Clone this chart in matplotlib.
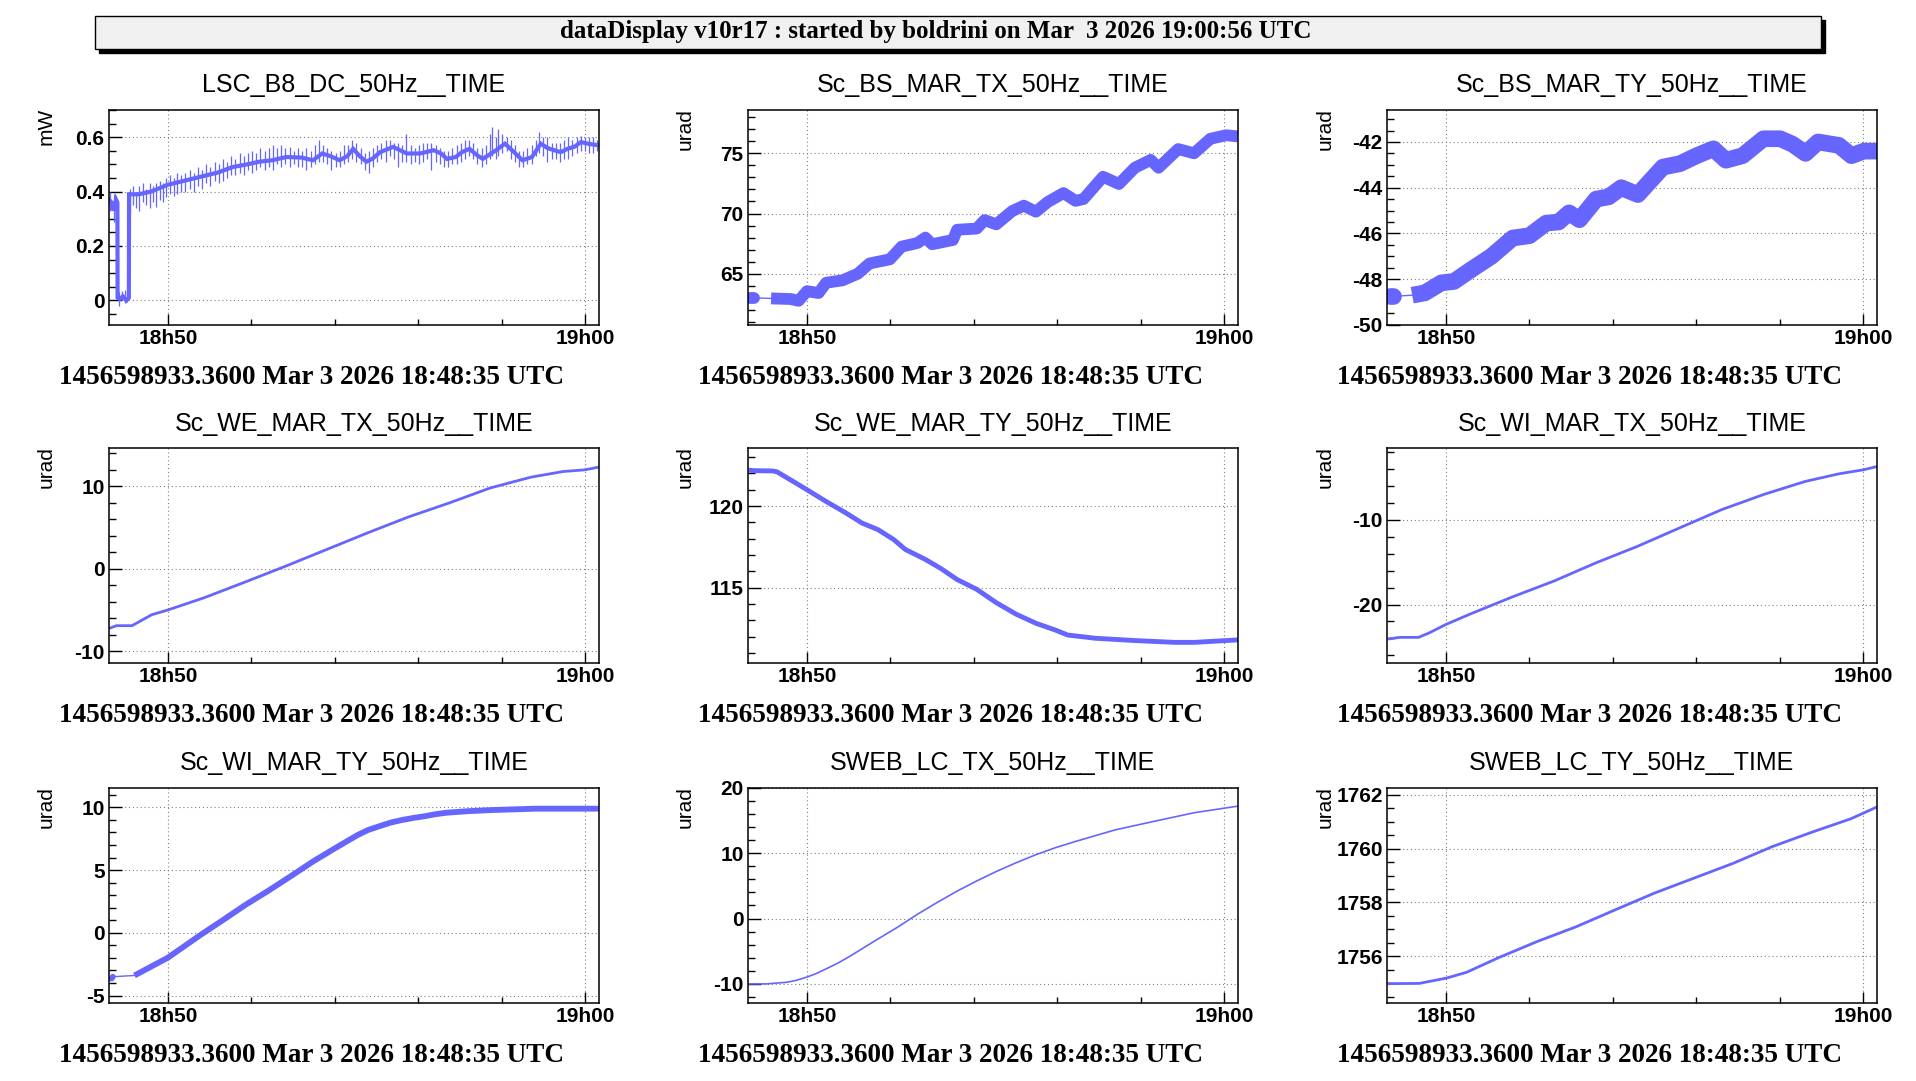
"""dataDisplay-style 3x3 grid of 50 Hz channels, 18h48 - 19h00 UTC."""

import matplotlib

matplotlib.use("Agg")
import matplotlib.pyplot as plt  # noqa: E402
from matplotlib.patches import Rectangle  # noqa: E402
from matplotlib.ticker import FixedLocator, MultipleLocator  # noqa: E402

BLUE = "#6666ff"
SANS = ["Liberation Sans", "DejaVu Sans"]
SERIF = ["Liberation Serif", "DejaVu Serif"]

HEADER = "dataDisplay v10r17 : started by boldrini on Mar  3 2026 19:00:56 UTC"
FOOTER = "1456598933.3600 Mar 3 2026 18:48:35 UTC"

# time axis: minutes after 18h00
T_START, T_END = 48.583, 60.33
X_MAJOR = [50, 60]
X_LABELS = ["18h50", "19h00"]
X_MINOR = [52, 54, 56, 58]

TITLES = [
    "LSC_B8_DC_50Hz__TIME", "Sc_BS_MAR_TX_50Hz__TIME", "Sc_BS_MAR_TY_50Hz__TIME",
    "Sc_WE_MAR_TX_50Hz__TIME", "Sc_WE_MAR_TY_50Hz__TIME", "Sc_WI_MAR_TX_50Hz__TIME",
    "Sc_WI_MAR_TY_50Hz__TIME", "SWEB_LC_TX_50Hz__TIME", "SWEB_LC_TY_50Hz__TIME",
]
UNITS = ["mW"] + ["urad"] * 8

Y_LIMS = [(-0.09, 0.70), (60.75, 78.6), (-50, -40.6),
          (-11.45, 14.58), (110.37, 123.54), (-26.94, -1.53),
          (-5.58, 11.56), (-12.9, 20.0), (1754.28, 1762.25)]
Y_TICKS = [[0, 0.2, 0.4, 0.6], [65, 70, 75], [-50, -48, -46, -44, -42],
           [-10, 0, 10], [115, 120], [-20, -10],
           [-5, 0, 5, 10], [-10, 0, 10, 20], [1756, 1758, 1760, 1762]]
Y_MINOR = [0.05, 1, 0.5, 2, 1, 2, 1, 2, 0.5]

# ---- LSC_B8_DC (noisy power trace, with a drop to zero at the start) ----
lsc_t = [48.59, 48.65, 48.70, 48.76, 48.79, 48.795, 48.85, 48.92, 49.0, 49.065,
         49.07, 49.3, 49.6, 50.0, 50.4, 50.8, 51.2, 51.55, 51.9, 52.2, 52.5,
         52.84, 53.2, 53.48, 53.7, 53.9, 54.12, 54.3, 54.44, 54.6, 54.76, 54.9,
         55.09, 55.4, 55.73, 56.05, 56.37, 56.55, 56.69, 56.9, 57.05, 57.23,
         57.4, 57.55, 57.7, 57.87, 58.08, 58.3, 58.5, 58.73, 58.94, 59.1, 59.26,
         59.42, 59.58, 59.75, 59.9, 60.1, 60.33]
lsc_v = [0.37, 0.36, 0.33, 0.37, 0.36, 0.01, 0.005, 0.015, 0.0, 0.01,
         0.39, 0.39, 0.40, 0.425, 0.44, 0.455, 0.47, 0.49, 0.50, 0.51, 0.515,
         0.527, 0.525, 0.515, 0.54, 0.53, 0.515, 0.53, 0.557, 0.53, 0.51, 0.52,
         0.545, 0.564, 0.54, 0.54, 0.552, 0.54, 0.52, 0.527, 0.545, 0.557,
         0.535, 0.52, 0.535, 0.552, 0.576, 0.545, 0.515, 0.527, 0.576, 0.56, 0.552,
         0.545, 0.557, 0.565, 0.582, 0.575, 0.57]
lsc_spike_t = [
    48.62, 48.72, 48.83, 48.90, 48.97, 49.02,
    49.10, 49.17, 49.24, 49.32, 49.40, 49.48, 49.56, 49.64, 49.72, 49.80, 49.88, 49.96,
    50.05, 50.14, 50.23, 50.32, 50.42, 50.52, 50.62, 50.72, 50.82, 50.92,
    51.02, 51.12, 51.22, 51.32, 51.42, 51.52, 51.62, 51.72, 51.82, 51.92,
    52.02, 52.12, 52.22, 52.32, 52.42, 52.52, 52.62, 52.72, 52.82, 52.92,
    53.02, 53.12, 53.22, 53.32, 53.42, 53.52, 53.62, 53.72, 53.82, 53.92,
    54.02, 54.12, 54.22, 54.32, 54.42, 54.52, 54.62, 54.72, 54.82, 54.92,
    55.02, 55.12, 55.22, 55.32, 55.42, 55.52, 55.62, 55.72, 55.82, 55.92,
    56.02, 56.12, 56.22, 56.32, 56.42, 56.52, 56.62, 56.72, 56.82, 56.92,
    57.02, 57.12, 57.22, 57.32, 57.42, 57.52, 57.62, 57.72, 57.77, 57.86, 57.92,
    58.02, 58.12, 58.22, 58.32, 58.42, 58.52, 58.62, 58.72, 58.82, 58.90,
    59.00, 59.10, 59.20, 59.30, 59.40, 59.50, 59.60, 59.70, 59.80, 59.90,
    60.00, 60.10, 60.20, 60.30]
lsc_spike_lo = [
    0.33, 0.29, -0.02, 0.0, -0.01, -0.005,
    0.32, 0.35, 0.34, 0.33, 0.36, 0.35, 0.34, 0.36, 0.345, 0.37, 0.36, 0.38,
    0.39, 0.385, 0.39, 0.40, 0.40, 0.41, 0.40, 0.42, 0.41, 0.43,
    0.42, 0.44, 0.43, 0.44, 0.45, 0.46, 0.46, 0.47, 0.46, 0.48,
    0.47, 0.48, 0.49, 0.48, 0.49, 0.48, 0.50, 0.49, 0.50, 0.49,
    0.50, 0.49, 0.49, 0.48, 0.49, 0.50, 0.51, 0.51, 0.50, 0.48,
    0.49, 0.49, 0.50, 0.51, 0.52, 0.51, 0.50, 0.48, 0.47, 0.49,
    0.51, 0.52, 0.51, 0.53, 0.52, 0.49, 0.51, 0.51, 0.50, 0.51,
    0.50, 0.51, 0.52, 0.48, 0.51, 0.50, 0.49, 0.49, 0.50, 0.50,
    0.51, 0.52, 0.53, 0.52, 0.50, 0.49, 0.50, 0.52, 0.53, 0.52, 0.53,
    0.54, 0.55, 0.52, 0.51, 0.49, 0.49, 0.50, 0.50, 0.53, 0.54,
    0.53, 0.51, 0.52, 0.52, 0.51, 0.52, 0.52, 0.53, 0.54, 0.55,
    0.55, 0.54, 0.54, 0.55]
lsc_spike_hi = [
    0.40, 0.39, 0.03, 0.035, 0.04, 0.03,
    0.41, 0.42, 0.40, 0.42, 0.43, 0.41, 0.43, 0.42, 0.43, 0.44, 0.43, 0.45,
    0.46, 0.45, 0.47, 0.46, 0.47, 0.48, 0.47, 0.49, 0.48, 0.50,
    0.49, 0.51, 0.50, 0.52, 0.51, 0.53, 0.52, 0.54, 0.53, 0.54,
    0.55, 0.54, 0.56, 0.55, 0.56, 0.57, 0.56, 0.57, 0.56, 0.565,
    0.55, 0.56, 0.55, 0.56, 0.55, 0.57, 0.59, 0.57, 0.56, 0.55,
    0.54, 0.55, 0.57, 0.57, 0.59, 0.58, 0.56, 0.54, 0.55, 0.56,
    0.57, 0.58, 0.59, 0.59, 0.58, 0.58, 0.57, 0.61, 0.57, 0.56,
    0.57, 0.58, 0.58, 0.58, 0.57, 0.56, 0.55, 0.55, 0.56, 0.57,
    0.58, 0.59, 0.59, 0.58, 0.56, 0.56, 0.57, 0.61, 0.636, 0.60, 0.63,
    0.61, 0.60, 0.59, 0.57, 0.55, 0.55, 0.56, 0.57, 0.59, 0.62,
    0.60, 0.60, 0.58, 0.58, 0.58, 0.59, 0.60, 0.59, 0.60, 0.606,
    0.60, 0.60, 0.60, 0.59]

# ---- Sc_BS_MAR_TX ----
bstx_pre_t = [48.64, 48.74]
bstx_pre_v = [63.0, 63.0]
bstx_t = [49.14, 49.61, 49.8, 50.0, 50.28, 50.46, 50.85, 51.22, 51.5, 51.99,
          52.27, 52.65, 52.84, 53.0, 53.5, 53.6, 54.07, 54.26, 54.54, 54.92,
          55.2, 55.49, 55.77, 56.15, 56.44, 56.63, 57.1, 57.48, 57.86, 58.24,
          58.43, 58.9, 59.28, 59.67, 60.05, 60.33]
bstx_v = [62.95, 62.9, 62.75, 63.55, 63.4, 64.25, 64.45, 65.0, 65.85, 66.2,
          67.25, 67.55, 68.0, 67.45, 67.8, 68.65, 68.75, 69.45, 69.1, 70.2,
          70.65, 70.15, 70.95, 71.7, 71.05, 71.2, 73.05, 72.45, 73.8, 74.45,
          73.8, 75.35, 75.0, 76.2, 76.5, 76.4]

# ---- Sc_BS_MAR_TY ----
bsty_pre_t = [48.66, 48.74]
bsty_pre_v = [-48.75, -48.75]
bsty_t = [49.19, 49.49, 49.89, 50.19, 50.59, 51.09, 51.6, 52.0, 52.4, 52.7,
          52.95, 53.2, 53.6, 53.9, 54.2, 54.6, 55.2, 55.61, 56.01, 56.41, 56.71,
          57.11, 57.61, 58.01, 58.31, 58.62, 58.92, 59.42, 59.72, 60.02, 60.33]
bsty_v = [-48.7, -48.6, -48.16, -48.1, -47.6, -47.0, -46.2, -46.1, -45.55, -45.5,
          -45.1, -45.4, -44.5, -44.4, -44.0, -44.3, -43.1, -42.95, -42.6, -42.3,
          -42.8, -42.6, -41.86, -41.86, -42.1, -42.5, -42.0, -42.15, -42.6, -42.4,
          -42.4]

# ---- Sc_WE_MAR_TX ----
wetx_t = [48.59, 48.77, 49.14, 49.61, 50.0, 50.88, 51.86, 52.83, 53.81, 54.79,
          55.77, 56.74, 57.72, 58.7, 59.48, 60.0, 60.33]
wetx_v = [-7.23, -6.9, -6.9, -5.58, -5.0, -3.5, -1.6, 0.32, 2.33, 4.34,
          6.27, 7.95, 9.76, 11.08, 11.77, 11.97, 12.3]

# ---- Sc_WE_MAR_TY ----
wety_t = [48.6, 48.72, 49.18, 49.28, 49.61, 50.0, 50.46, 50.94, 51.32, 51.7,
          52.08, 52.36, 52.84, 53.22, 53.6, 54.07, 54.54, 55.02, 55.49, 55.96,
          56.25, 56.92, 57.87, 58.81, 59.29, 59.76, 60.33]
wety_v = [122.2, 122.17, 122.15, 122.1, 121.6, 121.0, 120.28, 119.57, 118.96, 118.56,
          117.95, 117.34, 116.73, 116.16, 115.5, 114.9, 114.08, 113.37, 112.82, 112.4,
          112.1, 111.9, 111.76, 111.65, 111.65, 111.72, 111.8]

# ---- Sc_WI_MAR_TX ----
witx_t = [48.61, 48.89, 49.34, 49.59, 50.0, 50.59, 51.59, 52.6, 53.6, 54.6,
          55.6, 56.61, 57.61, 58.61, 59.42, 60.0, 60.33]
witx_v = [-24.08, -23.88, -23.88, -23.37, -22.35, -21.1, -19.1, -17.2, -15.06, -13.1,
          -10.94, -8.78, -7.0, -5.45, -4.55, -4.08, -3.69]

# ---- Sc_WI_MAR_TY ----
wity_pre_t = [48.65, 48.68]
wity_pre_v = [-3.65, -3.5]
wity_t = [49.2, 50.0, 50.8, 51.34, 51.87, 52.41, 52.94, 53.48, 54.01, 54.55,
          54.8, 55.09, 55.35, 55.62, 55.9, 56.16, 56.4, 56.69, 57.2, 57.76, 58.83, 60.33]
wity_v = [-3.4, -1.98, -0.13, 1.06, 2.25, 3.36, 4.5, 5.69, 6.75, 7.8,
          8.2, 8.52, 8.8, 9.0, 9.17, 9.3, 9.45, 9.58, 9.7, 9.79, 9.9, 9.9]

# ---- SWEB_LC_TX ----
swtx_t = [48.6, 49.04, 49.52, 49.75, 50.0, 50.23, 50.46, 50.75, 51.03, 51.7,
          52.18, 52.65, 53.12, 53.6, 54.07, 54.54, 55.02, 55.49, 55.96, 56.44,
          57.39, 58.34, 59.29, 60.33]
swtx_v = [-10.0, -10.0, -9.75, -9.45, -8.96, -8.4, -7.7, -6.8, -5.77, -3.14,
          -1.3, 0.66, 2.45, 4.2, 5.75, 7.2, 8.55, 9.77, 10.85, 11.8,
          13.57, 14.9, 16.2, 17.2]

# ---- SWEB_LC_TY ----
swty_t = [48.6, 49.36, 50.02, 50.49, 51.24, 52.18, 53.12, 54.06, 55.0, 55.94,
          56.88, 57.82, 58.76, 59.7, 60.33]
swty_v = [1754.99, 1755.0, 1755.2, 1755.41, 1755.94, 1756.55, 1757.1, 1757.73,
          1758.35, 1758.9, 1759.45, 1760.07, 1760.6, 1761.1, 1761.54]


def draw_trace(ax, t, v, lw, pre_t=None, pre_v=None):
    if pre_t is not None:
        ax.plot(pre_t, pre_v, color=BLUE, lw=lw, solid_capstyle="round")
        ax.plot([pre_t[-1], t[0]], [pre_v[-1], v[0]], color=BLUE, lw=1.0)
    ax.plot(t, v, color=BLUE, lw=lw, solid_capstyle="butt", solid_joinstyle="round")


def style_axes(ax, i):
    ax.set_xlim(T_START, T_END)
    ax.set_ylim(*Y_LIMS[i])
    ax.xaxis.set_major_locator(FixedLocator(X_MAJOR))
    ax.set_xticklabels(X_LABELS)
    ax.xaxis.set_minor_locator(FixedLocator(X_MINOR))
    ax.yaxis.set_major_locator(FixedLocator(Y_TICKS[i]))
    ax.set_yticklabels([f"{v:g}" for v in Y_TICKS[i]])
    ax.yaxis.set_minor_locator(MultipleLocator(Y_MINOR[i]))
    ax.tick_params(which="both", direction="in", top=False, right=False, color="black")
    ax.tick_params(axis="y", which="major", length=9, width=1, pad=3)
    ax.tick_params(axis="y", which="minor", length=5, width=1)
    ax.tick_params(axis="x", which="major", length=8, width=1, pad=3)
    ax.tick_params(axis="x", which="minor", length=4, width=1)
    for lab in ax.get_xticklabels() + ax.get_yticklabels():
        lab.set_fontfamily(SANS)
        lab.set_fontweight("bold")
        lab.set_fontsize(15)
    ax.grid(True, which="major", color="#808080", lw=0.8, ls=(0, (1, 2.5)))
    ax.set_axisbelow(True)
    for sp in ax.spines.values():
        sp.set_linewidth(1.1)
    ax.text(0.5, 1.115, TITLES[i], transform=ax.transAxes, ha="center", va="center",
            fontsize=18, family=SANS)
    ax.text(-0.127, 1.01, UNITS[i], transform=ax.transAxes, ha="center", va="top",
            rotation=90, fontsize=15, family=SANS)
    ax.text(-0.102, -0.244, FOOTER, transform=ax.transAxes, ha="left", va="center",
            fontsize=19.5, family=SERIF, fontweight="bold")


fig = plt.figure(figsize=(19.16, 10.81), dpi=100)

# header box with drop shadow
x0, x1 = 78 / 1568, 1490 / 1568
y0, y1 = 1 - 40 / 885, 1 - 13 / 885
fig.add_artist(Rectangle((x0 + 4 / 1916, y0 - 4 / 1081), x1 - x0, y1 - y0,
                         transform=fig.transFigure, facecolor="black", edgecolor="black"))
fig.add_artist(Rectangle((x0, y0), x1 - x0, y1 - y0, transform=fig.transFigure,
                         facecolor="#f0f0f0", edgecolor="black", lw=1))
fig.text(766 / 1568, 1 - 26 / 885, HEADER, ha="center", va="center",
         fontsize=18, family=SERIF, fontweight="bold")

col_left = [89 / 1568, 612 / 1568, 1135 / 1568]
row_bottom = [1 - 266 / 885, 1 - 543 / 885, 1 - 821 / 885]
ax_w, ax_h = 401 / 1568, 176 / 885

axes = []
for r in range(3):
    for c in range(3):
        axes.append(fig.add_axes([col_left[c], row_bottom[r], ax_w, ax_h]))

ax = axes[0]
ax.plot(lsc_t, lsc_v, color=BLUE, lw=3.0, solid_joinstyle="miter")
ax.vlines(lsc_spike_t, lsc_spike_lo, lsc_spike_hi, color=BLUE, lw=0.9)
draw_trace(axes[1], bstx_t, bstx_v, 8.5, bstx_pre_t, bstx_pre_v)
draw_trace(axes[2], bsty_t, bsty_v, 12.0, bsty_pre_t, bsty_pre_v)
draw_trace(axes[3], wetx_t, wetx_v, 2.0)
draw_trace(axes[4], wety_t, wety_v, 3.5)
draw_trace(axes[5], witx_t, witx_v, 2.0)
draw_trace(axes[6], wity_t, wity_v, 4.2, wity_pre_t, wity_pre_v)
draw_trace(axes[7], swtx_t, swtx_v, 1.2)
draw_trace(axes[8], swty_t, swty_v, 2.0)

for i, ax in enumerate(axes):
    style_axes(ax, i)

fig.savefig("out.png", dpi=100)
